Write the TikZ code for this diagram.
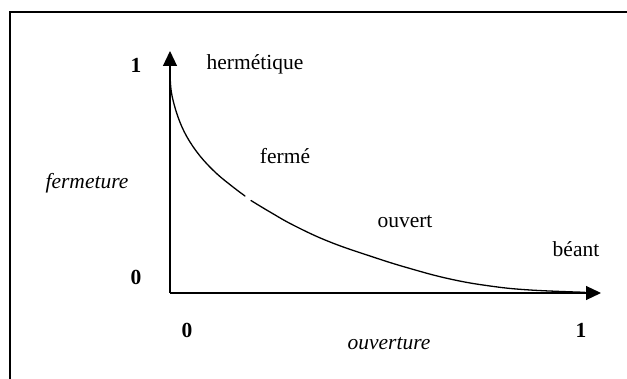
\documentclass[tikz,border=0pt]{standalone}
\usepackage{fontspec}
\setmainfont{Liberation Serif}
\usetikzlibrary{arrows.meta}
\tikzset{
  lbl/.style={inner sep=0pt, font=\fontsize{21.5}{24}\selectfont},
  num/.style={inner sep=0pt, font=\fontsize{21.5}{24}\selectfont\bfseries},
  axislbl/.style={inner sep=0pt, font=\fontsize{21.5}{24}\selectfont\itshape},
  axis/.style={line width=1.2pt, -{Triangle[length=15pt,width=14pt]}},
  curve/.style={line width=1.3pt, line join=round, line cap=round},
  frame/.style={line width=1.8pt}
}
\begin{document}
\begin{tikzpicture}[x=1pt,y=-1pt]
\useasboundingbox (0,0) rectangle (627,379);
\fill[white] (0,0) rectangle (627,379);
% frame
\coordinate (f1) at (10,380);
\coordinate (f2) at (10,12);
\coordinate (f3) at (628,12);
\draw[frame] (f1) -- (f2) -- (f3);
% axes
\coordinate (O) at (170,293);
\coordinate (Y) at (170,51);
\coordinate (X) at (601,293);
\draw[axis] (O) -- (Y);
\draw[axis] (O) -- (X);
% curve
\draw[curve] plot[smooth, tension=0.6] coordinates {(170,72) (171.5,93) (178,117) (187,137) (200,156) (216,173) (233,187) (245,196)};
\draw[curve] plot[smooth, tension=0.7] coordinates {(251,200.5) (270,212) (295,226) (330,242) (373,257) (410,268.5) (450,279) (490,286) (530,290) (585,292.3)};
% labels
\node[num] (y1) at (136,65) {1};
\node[num] (y0) at (136,277) {0};
\node[num] (x0) at (187,330) {0};
\node[num] (x1) at (581,330) {1};
\node[lbl] (herm) at (255,64) {hermétique};
\node[lbl] (ferme) at (285,156) {fermé};
\node[lbl] (ouvert) at (405,222) {ouvert};
\node[lbl] (beant) at (576,249) {béant};
\node[axislbl] (fermeture) at (87,183) {fermeture};
\node[axislbl] (ouverture) at (389,344) {ouverture};
\end{tikzpicture}
\end{document}
